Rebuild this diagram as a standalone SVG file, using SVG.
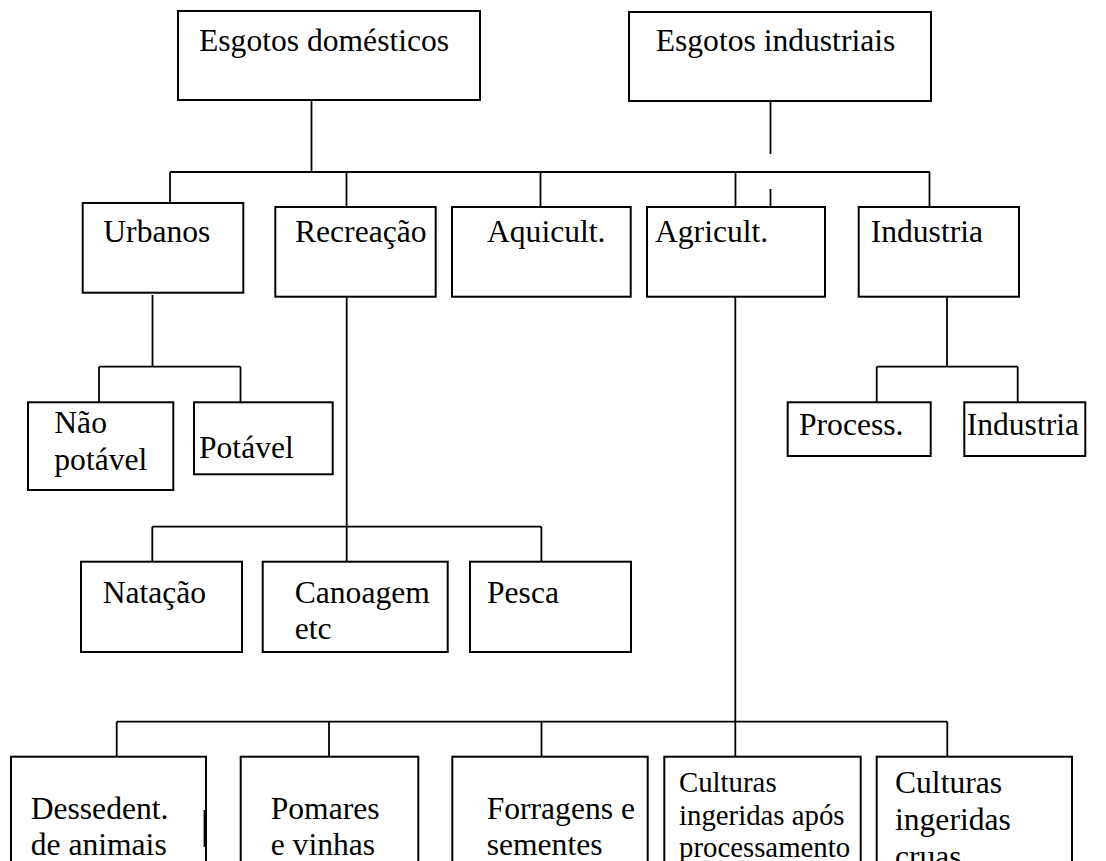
<svg xmlns="http://www.w3.org/2000/svg" width="1106" height="861" viewBox="0 0 1106 861">
<style>
  .box { fill: #fff; stroke: #000; stroke-width: 2; }
  .ln { fill: none; stroke: #000; stroke-width: 1.8; }
  .t { font-family: 'Liberation Serif', 'DejaVu Serif', serif; font-size: 31.6px; fill: #000; }
  .sm { font-size: 28.8px; }
</style>
<rect x="0" y="0" width="1106" height="861" fill="#fff"/>
<g id="connectors">
  <path class="ln" d="M311.5 100 V172"/>
  <path class="ln" d="M770.5 101 V154"/>
  <path class="ln" d="M770.5 189 V207"/>
  <path class="ln" d="M170 172 H930"/>
  <path class="ln" d="M170 172 V207"/>
  <path class="ln" d="M346.5 172 V207"/>
  <path class="ln" d="M540.5 172 V207"/>
  <path class="ln" d="M735.5 172 V207"/>
  <path class="ln" d="M929.5 172 V207"/>
  <path class="ln" d="M152.5 295 V366.7 M99 366.7 H240.5 M99 366.7 V402 M240.5 366.7 V402"/>
  <path class="ln" d="M947 297 V366.7 M876.7 366.7 H1017.7 M876.7 366.7 V402 M1017.7 366.7 V402"/>
  <path class="ln" d="M346.7 297 V563"/>
  <path class="ln" d="M152.3 526.7 H541.4 M152.3 526.7 V562 M541.4 526.7 V562"/>
  <path class="ln" d="M735.3 297 V760"/>
  <path class="ln" d="M116.7 721.7 H947.3 M116.7 721.7 V757 M329 721.7 V757 M541.5 721.7 V757 M947.3 721.7 V757"/>
</g>
<g class="t">
<g id="esgotos-domesticos">
  <rect class="box" x="178" y="11" width="302" height="89"/>
  <text x="199" y="51">Esgotos domésticos</text>
</g>
<g id="esgotos-industriais">
  <rect class="box" x="629" y="12" width="302" height="89"/>
  <text x="655.7" y="51">Esgotos industriais</text>
</g>
<g id="urbanos">
  <rect class="box" x="82.7" y="203" width="160.6" height="89.7"/>
  <text x="103.3" y="241.7">Urbanos</text>
</g>
<g id="recreacao">
  <rect class="box" x="275.3" y="207" width="160.4" height="89.7"/>
  <text x="295" y="241.7">Recreação</text>
</g>
<g id="aquicult">
  <rect class="box" x="452" y="207" width="178.7" height="89.7"/>
  <text x="487" y="241.7">Aquicult.</text>
</g>
<g id="agricult">
  <rect class="box" x="647" y="207" width="178" height="89.7"/>
  <text x="655" y="241.7">Agricult.</text>
</g>
<g id="industria">
  <rect class="box" x="858.7" y="207" width="160.3" height="89.7"/>
  <text x="870.7" y="241.7">Industria</text>
</g>
<g id="nao-potavel">
  <rect class="box" x="28" y="402.3" width="145.3" height="87.7"/>
  <text x="54.3" y="433.3">Não</text>
  <text x="54.3" y="470">potável</text>
</g>
<g id="potavel">
  <rect class="box" x="194" y="402.3" width="138.7" height="72"/>
  <text x="199" y="458.3">Potável</text>
</g>
<g id="process">
  <rect class="box" x="787.7" y="402.3" width="143" height="53.7"/>
  <text x="799" y="435">Process.</text>
</g>
<g id="industria-2">
  <rect class="box" x="964.3" y="402.3" width="121" height="53.7"/>
  <text x="966.7" y="435">Industria</text>
</g>
<g id="natacao">
  <rect class="box" x="81" y="561.7" width="161" height="90.3"/>
  <text x="102.7" y="603.3">Natação</text>
</g>
<g id="canoagem">
  <rect class="box" x="262.7" y="561.7" width="185" height="90.3"/>
  <text x="294.7" y="603.3">Canoagem</text>
  <text x="294.7" y="639.3">etc</text>
</g>
<g id="pesca">
  <rect class="box" x="470" y="561.7" width="161" height="90.3"/>
  <text x="487" y="603.3">Pesca</text>
</g>
<g id="dessedent">
  <rect class="box" x="11" y="756.7" width="195" height="120"/>
  <path class="ln" d="M204.5 810 V847" stroke-width="2.5"/>
  <text x="30.7" y="819">Dessedent.</text>
  <text x="30.7" y="855">de animais</text>
</g>
<g id="pomares">
  <rect class="box" x="240.7" y="756.7" width="177.6" height="120"/>
  <text x="270.7" y="819">Pomares</text>
  <text x="270.7" y="855">e vinhas</text>
</g>
<g id="forragens">
  <rect class="box" x="452.3" y="756.7" width="195.4" height="120"/>
  <text x="486.7" y="819">Forragens e</text>
  <text x="486.7" y="855">sementes</text>
</g>
<g id="culturas-processamento">
  <rect class="box" x="664.3" y="756.7" width="196.4" height="120"/>
  <text class="sm" x="679" y="791.7">Culturas</text>
  <text class="sm" x="679" y="824.5">ingeridas após</text>
  <text class="sm" x="679" y="857">processamento</text>
</g>
<g id="culturas-cruas">
  <rect class="box" x="876.7" y="756.7" width="195.3" height="120"/>
  <text x="895" y="793.3">Culturas</text>
  <text x="895" y="830">ingeridas</text>
  <text x="895" y="866.7">cruas</text>
</g>
</g>
</svg>
